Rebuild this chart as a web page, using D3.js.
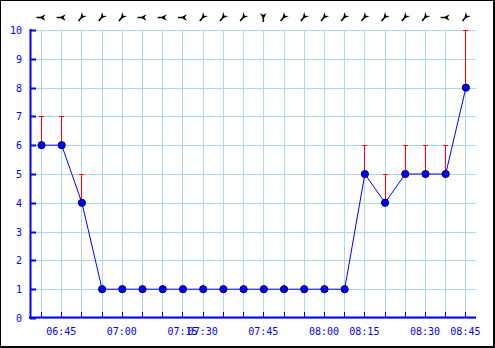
<!DOCTYPE html>
<html><head><meta charset="utf-8">
<script src="https://cdn.jsdelivr.net/npm/d3@7"></script>
<style>body{margin:0;background:#fff}svg{display:block}</style>
</head><body>
<svg id="c" width="495" height="348"></svg>
<script>
const times = ["06:40","06:45","06:50","06:55","07:00","07:05","07:10","07:15","07:30","07:35","07:40","07:45","07:50","07:55","08:00","08:10","08:15","08:20","08:25","08:30","08:40","08:45"];
const values = [6,6,4,1,1,1,1,1,1,1,1,1,1,1,1,1,5,4,5,5,5,8];
const highs  = [7,7,5,1,1,1,1,1,1,1,1,1,1,1,1,1,6,5,6,6,6,10];
const windRot = [90,90,40,40,40,90,90,90,40,40,40,0,40,40,40,40,40,40,40,40,90,40];
const yTicks = [0,1,2,3,4,5,6,7,8,9,10];
const xLabels = ["06:45","07:00","07:15","07:30","07:45","08:00","08:15","08:30","08:45"];

const svg = d3.select("#c");
svg.append("rect").attr("x",0).attr("y",0).attr("width",495).attr("height",348).attr("fill","#000");
svg.append("rect").attr("x",1).attr("y",1).attr("width",492).attr("height",345).attr("fill","#fff");

const x = d3.scalePoint().domain(times).range([41,465.4]);
const y = d3.scaleLinear().domain([0,10]).range([318,30]);
const font = "DejaVu Sans Mono";
const blue = "#0000ff";

// grid
svg.append("g").attr("shape-rendering","crispEdges").selectAll("line").data(yTicks).join("line")
  .attr("x1",30).attr("x2",475.5).attr("y1",d=>Math.round(y(d))+0.5).attr("y2",d=>Math.round(y(d))+0.5)
  .attr("stroke","#add8e6").attr("stroke-width",1);
svg.append("g").attr("shape-rendering","crispEdges").selectAll("line").data(times).join("line")
  .attr("x1",d=>Math.round(x(d))+0.5).attr("x2",d=>Math.round(x(d))+0.5).attr("y1",30).attr("y2",318)
  .attr("stroke","#add8e6").attr("stroke-width",1);

// axes lines
svg.append("line").attr("x1",30.5).attr("x2",30.5).attr("y1",29).attr("y2",319).attr("stroke",blue).attr("stroke-width",2);
svg.append("line").attr("x1",29).attr("x2",476).attr("y1",317.5).attr("y2",317.5).attr("stroke",blue).attr("stroke-width",2);
// y ticks
svg.append("g").selectAll("line").data(yTicks).join("line")
  .attr("x1",30).attr("x2",36).attr("y1",d=>Math.round(y(d))+0.5).attr("y2",d=>Math.round(y(d))+0.5)
  .attr("stroke",blue).attr("stroke-width",2);
// x ticks
svg.append("g").attr("shape-rendering","crispEdges").selectAll("line").data(times).join("line")
  .attr("x1",d=>Math.round(x(d))+0.5).attr("x2",d=>Math.round(x(d))+0.5).attr("y1",312).attr("y2",318)
  .attr("stroke",blue).attr("stroke-width",1);

// y labels
svg.append("g").selectAll("text").data(yTicks).join("text")
  .attr("x",22).attr("y",d=>y(d)+4).attr("text-anchor","end")
  .attr("font-family",font).attr("font-size",10).attr("fill",blue).text(d=>d);
// x labels
svg.append("g").selectAll("text").data(xLabels).join("text")
  .attr("x",d=>x(d)).attr("y",335).attr("text-anchor","middle")
  .attr("font-family",font).attr("font-size",10).attr("fill",blue).text(d=>d);

// error bars
const eb = times.map((t,i)=>({t,v:values[i],h:highs[i]})).filter(d=>d.h>d.v);
const ebg = svg.append("g").attr("shape-rendering","crispEdges");
ebg.selectAll("line.v").data(eb).join("line").attr("class","v")
  .attr("x1",d=>Math.round(x(d.t))+0.5).attr("x2",d=>Math.round(x(d.t))+0.5)
  .attr("y1",d=>y(d.v)).attr("y2",d=>Math.round(y(d.h)))
  .attr("stroke","#ff0000").attr("stroke-width",1);
ebg.selectAll("line.c").data(eb).join("line").attr("class","c")
  .attr("x1",d=>Math.round(x(d.t))-2).attr("x2",d=>Math.round(x(d.t))+3)
  .attr("y1",d=>Math.round(y(d.h))+0.5).attr("y2",d=>Math.round(y(d.h))+0.5)
  .attr("stroke","#ff0000").attr("stroke-width",1);

// line
svg.append("path").datum(values)
  .attr("d",d3.line().x((d,i)=>x(times[i])+0.5).y(d=>y(d)))
  .attr("fill","none").attr("stroke",blue).attr("stroke-width",1);
// points
svg.append("g").selectAll("circle").data(values).join("circle")
  .attr("cx",(d,i)=>x(times[i])+0.5).attr("cy",d=>y(d)).attr("r",3.6)
  .attr("fill",blue).attr("stroke","#000050").attr("stroke-width",1);

// wind glyphs
const glyph = "M0,2 L-3.2,-4.5 L0,-2.4 L3.2,-4.5 Z M-0.8,0 L0.8,0 L0.8,4.5 L-0.8,4.5 Z";
svg.append("g").selectAll("path").data(windRot).join("path")
  .attr("transform",(d,i)=>`translate(${x(times[i])},17.5) rotate(${d})`)
  .attr("d",glyph).attr("fill","#000");
</script>
</body></html>
